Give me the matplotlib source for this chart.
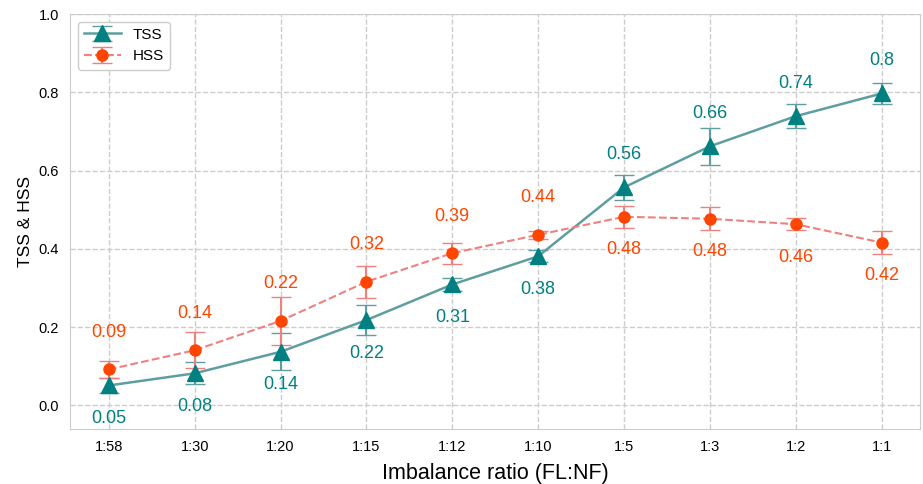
import matplotlib
matplotlib.use("Agg")
import matplotlib.pyplot as plt
import numpy as np

plt.rcParams['font.family'] = ['Liberation Sans', 'DejaVu Sans']

ratios = ["1:58", "1:30", "1:20", "1:15", "1:12", "1:10", "1:5", "1:3", "1:2", "1:1"]
tss = [0.051, 0.082, 0.137, 0.218, 0.309, 0.381, 0.557, 0.662, 0.739, 0.797]
tss_err = [0.018, 0.028, 0.047, 0.038, 0.016, 0.015, 0.033, 0.048, 0.031, 0.026]
hss = [0.092, 0.141, 0.216, 0.316, 0.389, 0.436, 0.482, 0.477, 0.463, 0.416]
hss_err = [0.022, 0.046, 0.062, 0.041, 0.027, 0.010, 0.028, 0.029, 0.016, 0.029]

x = np.arange(len(ratios))

fig, ax = plt.subplots(figsize=(9.23, 4.84), dpi=100)
fig.subplots_adjust(left=0.076, right=0.997, top=0.971, bottom=0.113)

ax.errorbar(x, tss, yerr=tss_err, color='#5f9ea0', marker='^', markersize=11,
            markerfacecolor='#008080', markeredgecolor='#008080', linewidth=1.8,
            capsize=7, elinewidth=1.5, ecolor='#5f9ea0', label='TSS', zorder=3)
ax.errorbar(x, hss, yerr=hss_err, color='#f08080', marker='o', markersize=8,
            markerfacecolor='#ff4500', markeredgecolor='#ff4500', linewidth=1.5,
            linestyle='--', capsize=7, elinewidth=1.5, ecolor='#f08080',
            label='HSS', zorder=3)

for i, (t, h) in enumerate(zip(tss, hss)):
    above_t = t > h
    ax.annotate(f"{round(t, 2):g}", (x[i], t), xytext=(0, 33 if above_t else -33),
                textcoords='offset pixels', ha='center', va='center',
                color='#008080', fontsize=13)
    ax.annotate(f"{round(h, 2):g}", (x[i], h), xytext=(0, 37 if not above_t else -33),
                textcoords='offset pixels', ha='center', va='center',
                color='#ff4500', fontsize=13)

ax.set_xticks(x)
ax.set_xticklabels(ratios, fontsize=10.5)
ax.set_xlim(-0.45, 9.45)
ax.set_ylim(-0.061, 1.0)
ax.set_yticks([0.0, 0.2, 0.4, 0.6, 0.8, 1.0])
ax.set_yticklabels(["0.0", "0.2", "0.4", "0.6", "0.8", "1.0"], fontsize=10.5)
ax.tick_params(length=0, pad=8)
ax.grid(True, linestyle='--', color='#cccccc', linewidth=1)
ax.set_axisbelow(True)
for s in ax.spines.values():
    s.set_color('#cccccc')
ax.set_xlabel("Imbalance ratio (FL:NF)", fontsize=15.5, labelpad=6)
ax.set_ylabel("TSS & HSS", fontsize=12.5)
ax.legend(loc='upper left', fontsize=11, framealpha=1, edgecolor='#cccccc',
          handlelength=2.4)

fig.savefig("out.png", dpi=100)
